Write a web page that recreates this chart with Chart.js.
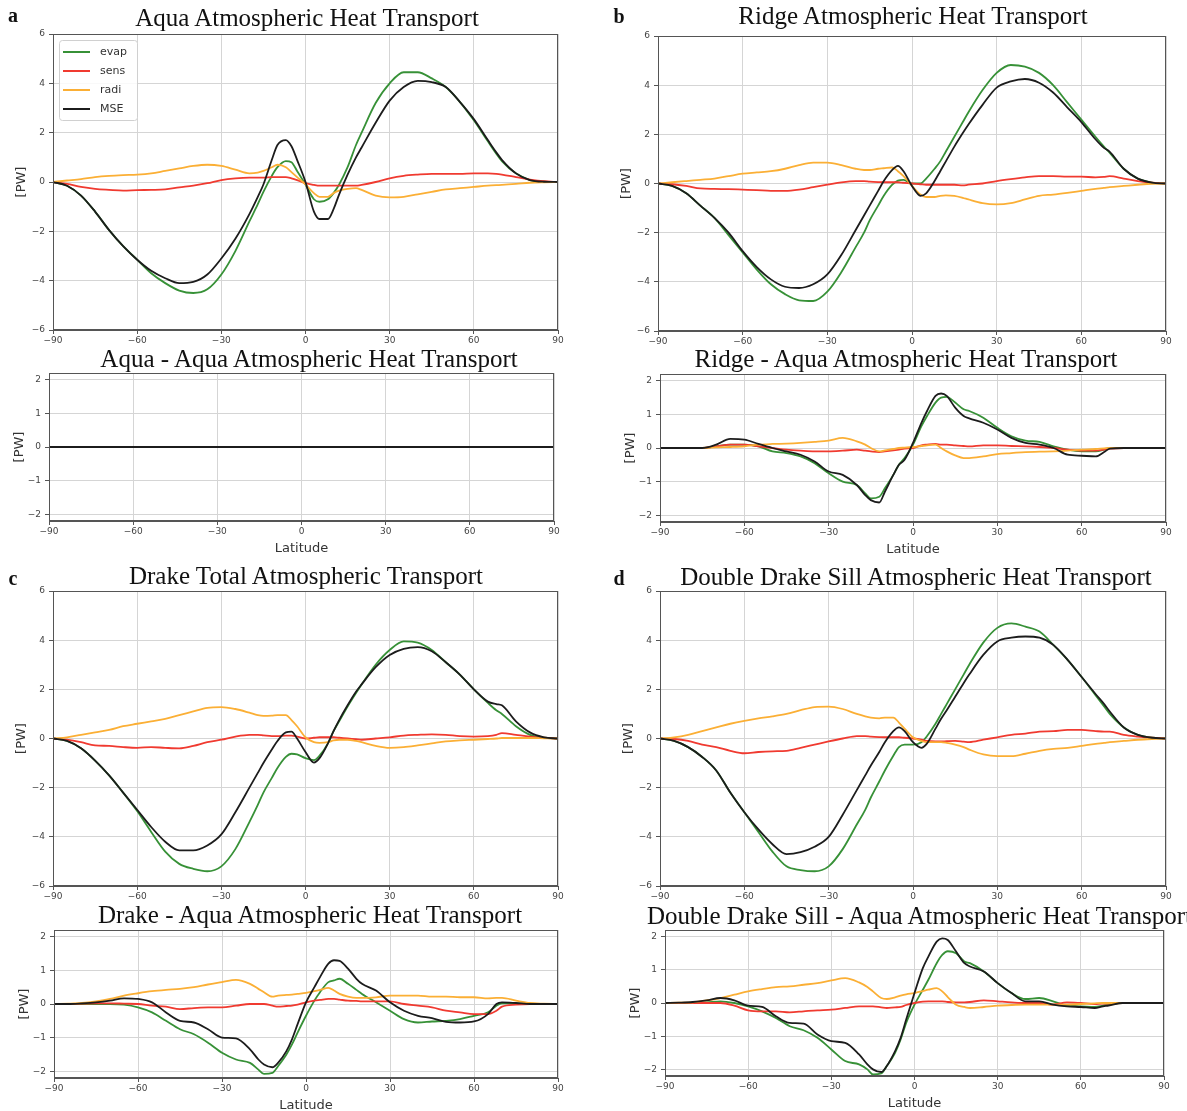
<!DOCTYPE html>
<html>
<head>
<meta charset="utf-8">
<script src="https://cdn.jsdelivr.net/npm/chart.js@4.4.1/dist/chart.umd.min.js"></script>
<style>
  body { margin: 0; width: 1187px; height: 1111px; overflow: hidden; background: #fff; position: relative; }
  canvas { position: absolute; }
  .ttl { position: absolute; font-family: "Liberation Serif", "Times New Roman", serif; font-size: 25px; line-height: 1; color: #111; white-space: nowrap; transform: translate(-50%, -50%); }
  .ttl.left { transform: translate(0, -50%); }
  .tag { position: absolute; font-family: "Liberation Serif", "Times New Roman", serif; font-weight: bold; font-size: 20px; line-height: 1; color: #111; transform: translate(-50%, -50%); }
</style>
</head>
<body>
<script>
// latitude grid shared by every curve
const LAT = [-90,-85,-80,-75,-70,-65,-60,-55,-50,-45,-40,-35,-30,-25,-20,
  -17,-15,-12,-10,-7,-5,-3,
  0,3,5,8,10,12,15,18,20,
  25,30,35,40,45,50,55,60,65,
  68,70,75,80,85,90];

const SERIES = ['evap', 'sens', 'radi', 'MSE'];
const COLORS = ['#379137', '#f03a30', '#fbaf35', '#1c1c1c'];

// Aqua
const aquaEvap = [0,-0.15,-0.55,-1.2,-1.95,-2.6,-3.15,-3.7,-4.1,-4.4,-4.5,-4.35,-3.75,-2.8,-1.6,
  -0.9,-0.4,0.25,0.6,0.85,0.8,0.45,
  -0.1,-0.7,-0.8,-0.7,-0.45,-0.1,0.6,1.5,2.0,
  3.2,4.0,4.45,4.45,4.2,3.85,3.25,2.5,1.65,
  1.15,0.85,0.35,0.08,0.01,0];
const aquaSens = [0,-0.08,-0.2,-0.28,-0.32,-0.35,-0.33,-0.32,-0.3,-0.22,-0.15,-0.05,0.08,0.15,0.18,
  0.18,0.18,0.2,0.2,0.2,0.15,0.08,
  -0.05,-0.12,-0.15,-0.15,-0.15,-0.15,-0.15,-0.15,-0.12,
  0,0.15,0.25,0.3,0.33,0.33,0.33,0.35,0.35,
  0.33,0.3,0.2,0.1,0.03,0];
const aquaRadi = [0,0.06,0.12,0.2,0.25,0.28,0.3,0.35,0.45,0.55,0.65,0.7,0.65,0.5,0.35,
  0.38,0.45,0.6,0.7,0.6,0.4,0.2,
  -0.1,-0.45,-0.6,-0.6,-0.45,-0.35,-0.28,-0.25,-0.32,
  -0.55,-0.62,-0.6,-0.5,-0.4,-0.3,-0.25,-0.2,-0.15,
  -0.13,-0.12,-0.08,-0.03,-0.01,0];
const aquaMse = [0,-0.15,-0.55,-1.2,-1.95,-2.6,-3.15,-3.6,-3.9,-4.1,-4.05,-3.75,-3.1,-2.3,-1.3,
  -0.6,-0.1,0.9,1.5,1.7,1.45,0.9,
  0,-1.2,-1.5,-1.5,-1.1,-0.5,0.3,1.0,1.4,
  2.4,3.3,3.85,4.1,4.05,3.85,3.25,2.55,1.7,
  1.2,0.9,0.35,0.08,0.01,0];

// Aqua minus Aqua is flat
const aquaDiff = [0,0,0,0,0,0,0,0,0,0,0,0,0,0,0,
  0,0,0,0,0,0,0,
  0,0,0,0,0,0,0,0,0,
  0,0,0,0,0,0,0,0,0,
  0,0,0,0,0,0];

// Ridge
const ridgeEvap = [0,-0.1,-0.4,-0.9,-1.4,-2.1,-2.8,-3.5,-4.1,-4.5,-4.75,-4.78,-4.4,-3.6,-2.6,
  -2.0,-1.5,-0.9,-0.5,-0.05,0.12,0.15,
  0,0,0.2,0.6,0.9,1.3,1.9,2.5,2.9,
  3.8,4.5,4.82,4.75,4.5,4.0,3.3,2.6,1.9,
  1.5,1.25,0.6,0.2,0.04,0];
const ridgeSens = [0,-0.03,-0.1,-0.2,-0.22,-0.23,-0.25,-0.27,-0.3,-0.3,-0.25,-0.15,-0.05,0.05,0.1,
  0.1,0.08,0.06,0.05,0.05,0.05,0.03,
  0,-0.03,-0.05,-0.05,-0.05,-0.05,-0.05,-0.08,-0.05,
  0,0.1,0.18,0.25,0.3,0.3,0.28,0.28,0.25,
  0.27,0.3,0.2,0.1,0.03,0];
const ridgeRadi = [0,0.05,0.1,0.15,0.2,0.3,0.4,0.45,0.5,0.6,0.75,0.85,0.85,0.75,0.6,
  0.55,0.55,0.6,0.62,0.65,0.5,0.3,
  -0.1,-0.45,-0.55,-0.55,-0.5,-0.48,-0.5,-0.58,-0.65,
  -0.8,-0.85,-0.8,-0.65,-0.5,-0.45,-0.38,-0.3,-0.22,
  -0.18,-0.15,-0.1,-0.05,-0.01,0];
const ridgeMse = [0,-0.1,-0.4,-0.9,-1.4,-2.0,-2.75,-3.4,-3.9,-4.2,-4.25,-4.1,-3.7,-2.9,-1.9,
  -1.3,-0.9,-0.3,0.1,0.55,0.72,0.5,
  -0.1,-0.5,-0.4,0.1,0.5,0.9,1.5,2.05,2.4,
  3.2,3.9,4.15,4.25,4.1,3.7,3.1,2.5,1.8,
  1.45,1.3,0.6,0.2,0.04,0];

// Ridge minus Aqua
const ridgeDiffEvap = [0,0,0,0,0.05,0.1,0.1,0.05,-0.1,-0.15,-0.25,-0.45,-0.75,-1.0,-1.1,
  -1.35,-1.5,-1.45,-1.2,-0.8,-0.5,-0.3,
  0.1,0.65,0.95,1.35,1.5,1.52,1.35,1.15,1.1,
  0.9,0.6,0.35,0.22,0.18,0.05,-0.05,-0.1,-0.1,
  -0.05,0,0,0,0,0];
const ridgeDiffSens = [0,0,0,0,0.05,0.1,0.1,0.05,0,-0.05,-0.08,-0.1,-0.1,-0.08,-0.05,
  -0.08,-0.1,-0.12,-0.1,-0.07,-0.05,-0.02,
  0,0.08,0.1,0.12,0.1,0.1,0.08,0.06,0.05,
  0.08,0.08,0.06,0.05,0.03,0,-0.05,-0.08,-0.08,
  -0.05,-0.02,0,0,0,0];
const ridgeDiffRadi = [0,0,0,0,0.02,0.03,0.05,0.1,0.12,0.13,0.15,0.18,0.22,0.3,0.2,
  0.1,0,-0.1,-0.07,-0.03,0,0.01,
  0.03,0.06,0.08,0.1,0,-0.1,-0.22,-0.3,-0.3,
  -0.25,-0.18,-0.15,-0.12,-0.11,-0.1,-0.08,-0.05,-0.03,
  -0.01,0,0,0,0,0];
const ridgeDiffMse = [0,0,0,0,0.1,0.27,0.25,0.12,0,-0.1,-0.2,-0.4,-0.7,-0.8,-1.1,
  -1.4,-1.55,-1.62,-1.3,-0.8,-0.5,-0.35,
  0.15,0.75,1.1,1.55,1.62,1.55,1.2,0.95,0.88,
  0.75,0.55,0.3,0.15,0.1,0,-0.2,-0.23,-0.25,
  -0.12,-0.02,0,0,0,0];

// Drake
const drakeEvap = [0,-0.1,-0.4,-0.9,-1.5,-2.2,-2.95,-3.8,-4.6,-5.1,-5.3,-5.4,-5.2,-4.5,-3.4,
  -2.7,-2.2,-1.6,-1.2,-0.75,-0.62,-0.65,
  -0.8,-0.88,-0.7,-0.2,0.3,0.7,1.3,1.85,2.2,
  3.0,3.6,3.95,3.9,3.6,3.1,2.6,2.0,1.45,
  1.15,1.0,0.5,0.15,0.03,0];
const drakeSens = [0,-0.05,-0.15,-0.28,-0.3,-0.35,-0.38,-0.35,-0.38,-0.4,-0.3,-0.15,-0.05,0.08,0.15,
  0.15,0.13,0.1,0.1,0.12,0.12,0.08,
  0,0.03,0.05,0.05,0.05,0.03,0,-0.03,-0.05,
  0,0.05,0.12,0.15,0.17,0.15,0.1,0.08,0.1,
  0.15,0.22,0.15,0.08,0.03,0];
const drakeRadi = [0,0.05,0.15,0.25,0.35,0.5,0.6,0.7,0.8,0.95,1.1,1.25,1.28,1.2,1.05,
  0.95,0.92,0.93,0.95,0.95,0.75,0.5,
  0.05,-0.15,-0.18,-0.15,-0.08,-0.05,-0.05,-0.1,-0.15,
  -0.3,-0.38,-0.35,-0.28,-0.2,-0.12,-0.08,-0.05,-0.02,
  0,0.02,0.02,0.02,0.01,0];
const drakeMse = [0,-0.1,-0.4,-0.9,-1.5,-2.2,-2.9,-3.6,-4.2,-4.55,-4.55,-4.35,-3.9,-3.0,-2.0,
  -1.4,-1.0,-0.45,-0.1,0.25,0.28,0,
  -0.55,-0.98,-0.8,-0.2,0.3,0.75,1.35,1.9,2.2,
  2.9,3.4,3.65,3.72,3.55,3.1,2.6,2.0,1.5,
  1.4,1.35,0.7,0.25,0.05,0];

// Drake minus Aqua
const drakeDiffEvap = [0,0,0,0,0,-0.02,-0.1,-0.25,-0.5,-0.75,-0.9,-1.15,-1.45,-1.65,-1.75,
  -1.95,-2.08,-2.05,-1.85,-1.5,-1.2,-0.85,
  -0.35,0.1,0.35,0.65,0.7,0.75,0.6,0.42,0.3,
  0.05,-0.2,-0.45,-0.55,-0.52,-0.5,-0.45,-0.35,-0.25,
  -0.05,0.02,0.02,0,0,0];
const drakeDiffSens = [0,0,0.01,0.02,0.02,0.01,0,-0.05,-0.08,-0.15,-0.12,-0.1,-0.1,-0.05,0,
  0,0,-0.05,-0.08,-0.06,-0.05,-0.02,
  0.05,0.1,0.12,0.15,0.15,0.13,0.1,0.09,0.08,
  0.08,0.08,0,-0.05,-0.1,-0.2,-0.25,-0.3,-0.3,
  -0.2,-0.08,-0.02,0,0,0];
const drakeDiffRadi = [0,0.01,0.03,0.08,0.15,0.25,0.32,0.38,0.42,0.45,0.5,0.58,0.65,0.72,0.6,
  0.45,0.35,0.22,0.25,0.27,0.28,0.3,
  0.33,0.38,0.42,0.48,0.4,0.3,0.22,0.18,0.18,
  0.2,0.25,0.25,0.25,0.22,0.22,0.2,0.2,0.17,
  0.18,0.18,0.1,0.03,0.01,0];
const drakeDiffMse = [0,0,0.02,0.05,0.1,0.17,0.15,0.05,-0.25,-0.5,-0.55,-0.75,-1.0,-1.02,-1.35,
  -1.65,-1.8,-1.88,-1.75,-1.4,-1.05,-0.6,
  0.05,0.5,0.8,1.2,1.3,1.28,1.05,0.75,0.6,
  0.4,0.05,-0.2,-0.35,-0.42,-0.53,-0.55,-0.52,-0.3,
  0,0.05,0.03,0,0,0];

// Double Drake Sill
const ddsEvap = [0,-0.1,-0.35,-0.75,-1.3,-2.2,-3.0,-3.8,-4.6,-5.2,-5.35,-5.4,-5.2,-4.5,-3.5,
  -2.9,-2.4,-1.75,-1.3,-0.7,-0.35,-0.25,
  -0.25,-0.15,0.1,0.6,1.0,1.4,2.0,2.6,3.0,
  3.9,4.5,4.68,4.55,4.35,3.8,3.2,2.5,1.75,
  1.3,1.0,0.45,0.15,0.03,0];
const ddsSens = [0,-0.02,-0.1,-0.25,-0.35,-0.5,-0.6,-0.55,-0.52,-0.5,-0.38,-0.25,-0.12,0,0.1,
  0.1,0.08,0.06,0.05,0.05,0.05,0.03,
  0,-0.05,-0.1,-0.12,-0.12,-0.11,-0.1,-0.13,-0.15,
  -0.05,0.05,0.15,0.2,0.28,0.3,0.35,0.35,0.3,
  0.28,0.28,0.15,0.08,0.03,0];
const ddsRadi = [0,0.05,0.15,0.3,0.45,0.6,0.72,0.82,0.9,1.0,1.15,1.28,1.3,1.2,1.0,
  0.9,0.85,0.82,0.85,0.85,0.65,0.4,
  0.05,-0.1,-0.15,-0.15,-0.15,-0.18,-0.25,-0.35,-0.45,
  -0.65,-0.72,-0.72,-0.62,-0.5,-0.42,-0.38,-0.3,-0.22,
  -0.18,-0.15,-0.1,-0.05,-0.02,0];
const ddsMse = [0,-0.1,-0.35,-0.75,-1.3,-2.2,-3.0,-3.7,-4.3,-4.7,-4.62,-4.4,-4.0,-3.1,-2.1,
  -1.5,-1.1,-0.55,-0.15,0.3,0.45,0.3,
  -0.15,-0.38,-0.2,0.4,0.8,1.15,1.7,2.25,2.6,
  3.4,3.95,4.1,4.15,4.1,3.8,3.2,2.5,1.8,
  1.4,1.1,0.45,0.15,0.03,0];

// Double Drake Sill minus Aqua
const ddsDiffEvap = [0,0,0.01,0.02,0.05,0,-0.1,-0.25,-0.45,-0.7,-0.82,-1.05,-1.4,-1.75,-1.85,
  -2.0,-2.15,-2.12,-1.9,-1.5,-1.1,-0.6,
  -0.05,0.4,0.7,1.2,1.45,1.56,1.5,1.25,1.2,
  0.95,0.6,0.3,0.12,0.15,0.05,-0.08,-0.1,-0.12,
  -0.08,-0.05,0,0,0,0];
const ddsDiffSens = [0,0,0,0,0,-0.08,-0.22,-0.25,-0.25,-0.28,-0.25,-0.22,-0.2,-0.15,-0.1,
  -0.1,-0.1,-0.13,-0.15,-0.13,-0.12,-0.06,
  0,0.04,0.05,0.05,0.05,0.03,0.02,0.02,0.03,
  0.08,0.05,0.02,0,0,-0.05,0.02,0,-0.03,
  -0.02,-0.02,0,0,0,0];
const ddsDiffRadi = [0,0.01,0.02,0.08,0.15,0.25,0.35,0.42,0.48,0.5,0.55,0.6,0.68,0.75,0.62,
  0.48,0.35,0.15,0.12,0.17,0.22,0.26,
  0.3,0.36,0.4,0.45,0.35,0.18,-0.05,-0.12,-0.15,
  -0.12,-0.08,-0.06,-0.05,-0.05,-0.05,-0.05,-0.03,-0.01,
  0,0,0,0,0,0];
const ddsDiffMse = [0,0.01,0.03,0.08,0.15,0.08,-0.08,-0.12,-0.4,-0.6,-0.62,-0.95,-1.15,-1.2,-1.55,
  -1.85,-2.0,-2.08,-1.9,-1.45,-1.05,-0.5,
  0.3,1.05,1.4,1.85,1.95,1.9,1.55,1.2,1.1,
  0.95,0.6,0.3,0.05,0.05,-0.05,-0.1,-0.12,-0.15,
  -0.1,-0.08,0,0,0,0];

// plot boxes on the page (left, right, top, bottom of the axes area)
const panels = [
  {L: 53, R: 558, T: 34, B: 330, full: true, legend: true, series: [aquaEvap, aquaSens, aquaRadi, aquaMse]},
  {L: 49, R: 554, T: 373, B: 521, full: false, series: [aquaDiff, aquaDiff, aquaDiff, aquaDiff]},
  {L: 658, R: 1166, T: 36, B: 331, full: true, series: [ridgeEvap, ridgeSens, ridgeRadi, ridgeMse]},
  {L: 660, R: 1166, T: 374, B: 522, full: false, series: [ridgeDiffEvap, ridgeDiffSens, ridgeDiffRadi, ridgeDiffMse]},
  {L: 53, R: 558, T: 591, B: 886, full: true, series: [drakeEvap, drakeSens, drakeRadi, drakeMse]},
  {L: 54, R: 558, T: 930, B: 1078, full: false, series: [drakeDiffEvap, drakeDiffSens, drakeDiffRadi, drakeDiffMse]},
  {L: 660, R: 1166, T: 591, B: 886, full: true, series: [ddsEvap, ddsSens, ddsRadi, ddsMse]},
  {L: 665, R: 1164, T: 930, B: 1076, full: false, series: [ddsDiffEvap, ddsDiffSens, ddsDiffRadi, ddsDiffMse]}
];

const titles = [
  {text: 'Aqua Atmospheric Heat Transport', x: 307, y: 17},
  {text: 'Aqua - Aqua Atmospheric Heat Transport', x: 309, y: 358},
  {text: 'Ridge Atmospheric Heat Transport', x: 913, y: 15},
  {text: 'Ridge - Aqua Atmospheric Heat Transport', x: 906, y: 358},
  {text: 'Drake Total Atmospheric Transport', x: 306, y: 575},
  {text: 'Drake - Aqua Atmospheric Heat Transport', x: 310, y: 914},
  {text: 'Double Drake Sill Atmospheric Heat Transport', x: 916, y: 576},
  {text: 'Double Drake Sill - Aqua Atmospheric Heat Transport', x: 647, y: 915, left: true}
];
const tags = [
  {text: 'a', x: 13, y: 15}, {text: 'b', x: 619, y: 16},
  {text: 'c', x: 13, y: 578}, {text: 'd', x: 619, y: 578}
];

const minus = v => String(v).replace('-', '\u2212');

// matplotlib style box around the axes
const framePlugin = {
  id: 'frame',
  afterDraw(chart) {
    const {ctx, chartArea: a} = chart;
    ctx.save();
    ctx.strokeStyle = '#555';
    ctx.lineWidth = 1;
    ctx.strokeRect(a.left + 0.5, a.top + 0.5, a.right - a.left - 1, a.bottom - a.top - 1);
    ctx.restore();
  }
};

// legend drawn inside the upper-left corner of the axes
const insetLegend = {
  id: 'insetLegend',
  afterDraw(chart, args, opts) {
    if (!opts.show) return;
    const {ctx, chartArea: a} = chart;
    const x = a.left + 6, y = a.top + 6, w = 78, h = 80;
    ctx.save();
    ctx.fillStyle = 'rgba(255,255,255,0.85)';
    ctx.strokeStyle = '#d0d0d0';
    ctx.lineWidth = 1;
    ctx.beginPath();
    ctx.roundRect(x + 0.5, y + 0.5, w, h, 3);
    ctx.fill();
    ctx.stroke();
    ctx.font = '11px "DejaVu Sans"';
    ctx.textBaseline = 'middle';
    chart.data.datasets.forEach((ds, i) => {
      const cy = y + 12 + i * 19;
      ctx.strokeStyle = ds.borderColor;
      ctx.lineWidth = 2;
      ctx.beginPath();
      ctx.moveTo(x + 4, cy);
      ctx.lineTo(x + 31, cy);
      ctx.stroke();
      ctx.fillStyle = '#333';
      ctx.fillText(ds.label, x + 41, cy);
    });
    ctx.restore();
  }
};

function makeChart(p) {
  const padL = 50, padR = 14, padT = 10;
  const padB = p.full ? 20 : 40;
  const cv = document.createElement('canvas');
  cv.width = p.R - p.L + padL + padR;
  cv.height = p.B - p.T + padT + padB;
  cv.style.width = cv.width + 'px';
  cv.style.height = cv.height + 'px';
  cv.style.left = (p.L - padL) + 'px';
  cv.style.top = (p.T - padT) + 'px';
  document.body.appendChild(cv);

  const tickFont = {family: '"DejaVu Sans"', size: 9};
  const grid = {color: '#d5d5d5', tickColor: '#555', tickLength: 4};

  new Chart(cv, {
    type: 'line',
    data: {
      datasets: p.series.map((vals, i) => ({
        label: SERIES[i],
        data: LAT.map((lat, k) => ({x: lat, y: vals[k]})),
        borderColor: COLORS[i],
        borderWidth: 1.8,
        pointRadius: 0,
        cubicInterpolationMode: 'monotone',
        fill: false,
        // later series sit on top (MSE last)
        order: SERIES.length - i
      }))
    },
    options: {
      responsive: false,
      animation: false,
      devicePixelRatio: 1,
      layout: {padding: {left: 0, right: padR, top: padT, bottom: 0}},
      plugins: {
        legend: {display: false},
        tooltip: {enabled: false},
        insetLegend: {show: !!p.legend}
      },
      scales: {
        x: {
          type: 'linear', min: -90, max: 90,
          ticks: {stepSize: 30, maxRotation: 0, autoSkip: false, padding: 1, font: tickFont, color: '#444', callback: minus},
          grid: grid,
          border: {color: '#555'},
          title: {display: !p.full, text: 'Latitude', color: '#333', font: {family: '"DejaVu Sans"', size: 13}, padding: {top: 0, bottom: 5}},
          afterFit(s) { s.height = padB; }
        },
        y: {
          min: p.full ? -6 : -2.2,
          max: p.full ? 6 : 2.2,
          ticks: {stepSize: p.full ? 2 : 1, includeBounds: false, padding: 4, font: tickFont, color: '#444', callback: minus},
          grid: grid,
          border: {color: '#555'},
          title: {display: true, text: '[PW]', color: '#333', font: {family: '"DejaVu Sans"', size: 13}, padding: {top: p.full ? 11 : 13, bottom: 0}},
          afterFit(s) { s.width = padL; }
        }
      }
    },
    plugins: [framePlugin, insetLegend]
  });
}

panels.forEach(makeChart);

titles.forEach(t => {
  const d = document.createElement('div');
  d.className = t.left ? 'ttl left' : 'ttl';
  d.textContent = t.text;
  d.style.left = t.x + 'px';
  d.style.top = t.y + 'px';
  document.body.appendChild(d);
});
tags.forEach(t => {
  const d = document.createElement('div');
  d.className = 'tag';
  d.textContent = t.text;
  d.style.left = t.x + 'px';
  d.style.top = t.y + 'px';
  document.body.appendChild(d);
});
</script>
</body>
</html>
